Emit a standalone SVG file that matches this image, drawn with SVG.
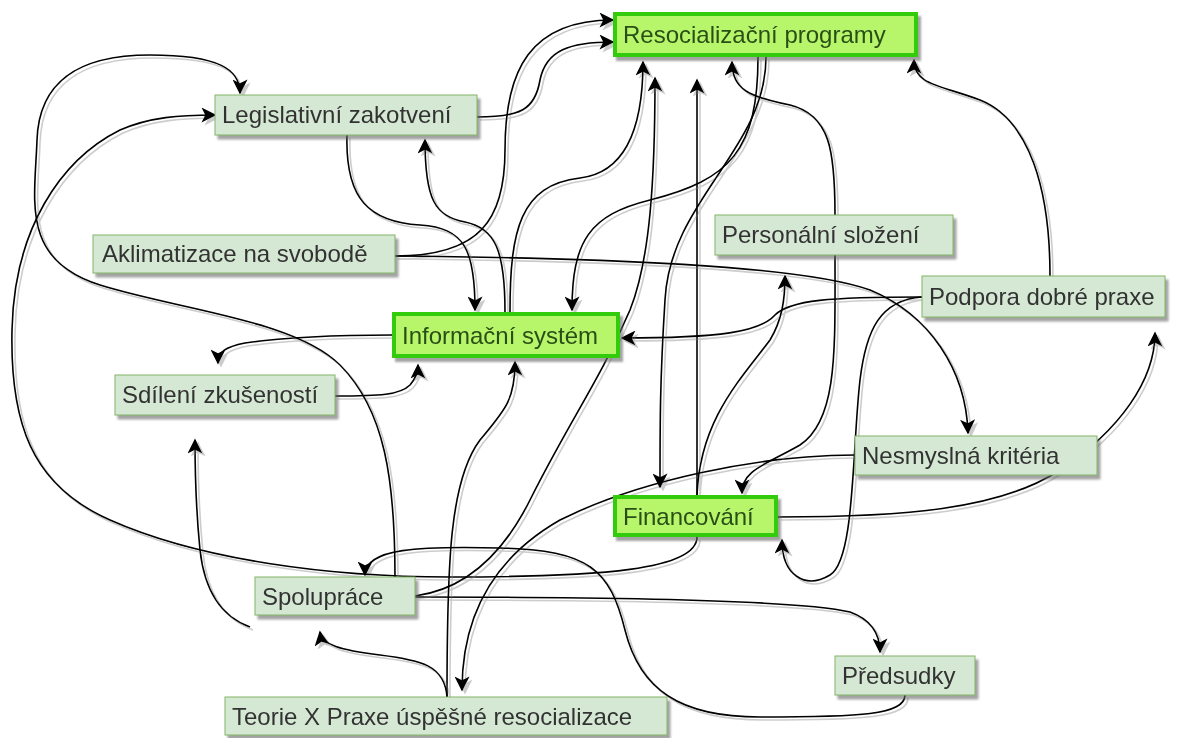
<svg xmlns="http://www.w3.org/2000/svg" width="1184" height="738" viewBox="0 0 1184 738">
<style>
.n rect{fill:#d5e8d4;stroke:#82b366;stroke-width:1}
.g rect{fill:#b7f56a;stroke:#33cc11;stroke-width:4}
text{font-family:"Liberation Sans",Arial,sans-serif;font-size:24px;fill:#333}
.g text{fill:#2a4f16}
#edges path{fill:none;stroke:#000;stroke-width:1.6;marker-end:url(#a)}
</style>
<defs>
<marker id="a" viewBox="0 0 10 10" refX="9" refY="5" markerWidth="16" markerHeight="15" markerUnits="userSpaceOnUse" orient="auto">
<path d="M0,0 L10,5 L0,10 L2.5,5 z" fill="#000"/>
</marker>
<filter id="sh" x="-10%" y="-10%" width="130%" height="140%">
<feDropShadow dx="3" dy="4" stdDeviation="1" flood-color="#666" flood-opacity="0.6"/>
</filter>
<filter id="esh" x="-5%" y="-5%" width="110%" height="110%">
<feDropShadow dx="3" dy="3" stdDeviation="0.6" flood-color="#999" flood-opacity="0.5"/>
</filter>
</defs>
<rect width="1184" height="738" fill="#fff"/>
<g id="edges" filter="url(#esh)">
<path d="M395,256 C480,256 505,220 505,150 C505,70 530,20 613,20"/>
<path d="M477,117 C520,117 535,110 540,80 C546,50 570,42 613,42"/>
<path d="M395,577 C395,480 385,410 340,365 S180,310 100,285 S35,200 37,140 S80,55 150,55 S240,70 240,93"/>
<path d="M697,537 C697,570 600,577 450,577 C330,577 200,560 110,520 C30,485 10,420 12,330 C14,230 60,160 120,130 C150,117 180,115 215,115"/>
<path d="M347,135 C345,200 370,222 420,225 C465,228 475,250 475,310"/>
<path d="M505,312 C505,250 495,228 465,222 C435,216 425,200 425,140"/>
<path d="M510,312 C510,230 520,185 580,178 C630,172 643,120 643,62"/>
<path d="M758,57 C758,150 730,180 650,200 C590,215 572,240 572,310"/>
<path d="M766,57 C766,150 670,200 665,300 C660,380 660,420 660,487"/>
<path d="M697,495 L697,80"/>
<path d="M835,215 C835,150 830,115 790,105 C750,97 732,90 732,62"/>
<path d="M835,255 C835,350 838,420 800,445 C765,465 742,470 742,493"/>
<path d="M697,495 C700,420 740,380 770,340 C782,320 785,300 785,276"/>
<path d="M922,297 C830,297 790,300 775,315 C760,332 720,338 622,338"/>
<path d="M1050,276 C1050,190 1030,120 980,100 C940,85 914,85 914,60"/>
<path d="M778,517 C900,517 1000,510 1060,470 C1120,430 1155,380 1155,333"/>
<path d="M922,297 C880,300 866,330 860,380 C852,450 855,560 830,575 C805,590 782,575 782,540"/>
<path d="M395,256 C600,258 800,265 870,290 C930,315 966,370 968,433"/>
<path d="M855,455 C760,455 640,480 560,520 C490,560 462,620 462,690"/>
<path d="M447,697 C445,665 420,660 380,655 C340,650 322,645 320,632"/>
<path d="M447,697 C447,560 450,480 480,440 C505,410 515,400 515,362"/>
<path d="M415,596 C460,590 500,560 530,500 C570,420 600,380 630,310 C650,260 655,180 655,78"/>
<path d="M415,597 C600,597 800,600 850,612 C872,620 880,635 880,652"/>
<path d="M905,695 C905,715 860,717 760,717 C680,717 640,690 625,630 C610,570 590,550 500,548 C420,546 365,548 365,575"/>
<path d="M250,627 C225,618 205,595 200,550 C196,510 195,470 195,440"/>
<path d="M335,396 C380,396 400,395 410,385 C416,378 418,372 418,365"/>
<path d="M392,335 C330,335 280,338 245,343 C225,347 218,352 218,363"/>
</g>
<g id="n1" class="g" filter="url(#sh)"><rect x="615" y="14" width="301" height="41"/><text x="623" y="43">Resocializační programy</text></g>
<g id="n2" class="n" filter="url(#sh)"><rect x="215" y="95" width="262" height="40"/><text x="222" y="123">Legislativní zakotvení</text></g>
<g id="n3" class="n" filter="url(#sh)"><rect x="93" y="235" width="302" height="38"/><text x="102" y="262">Aklimatizace na svobodě</text></g>
<g id="n4" class="g" filter="url(#sh)"><rect x="394" y="314" width="224" height="42"/><text x="402" y="344">Informační systém</text></g>
<g id="n5" class="n" filter="url(#sh)"><rect x="115" y="375" width="220" height="40"/><text x="122" y="403">Sdílení zkušeností</text></g>
<g id="n6" class="n" filter="url(#sh)"><rect x="715" y="215" width="238" height="40"/><text x="722" y="243">Personální složení</text></g>
<g id="n7" class="n" filter="url(#sh)"><rect x="922" y="276" width="243" height="41"/><text x="929" y="305">Podpora dobré praxe</text></g>
<g id="n8" class="n" filter="url(#sh)"><rect x="855" y="436" width="242" height="39"/><text x="862" y="464">Nesmyslná kritéria</text></g>
<g id="n9" class="g" filter="url(#sh)"><rect x="615" y="497" width="161" height="38"/><text x="623" y="525">Financování</text></g>
<g id="n10" class="n" filter="url(#sh)"><rect x="255" y="577" width="160" height="38"/><text x="262" y="605">Spolupráce</text></g>
<g id="n11" class="n" filter="url(#sh)"><rect x="835" y="656" width="140" height="39"/><text x="842" y="684">Předsudky</text></g>
<g id="n12" class="n" filter="url(#sh)"><rect x="225" y="697" width="442" height="38"/><text x="232" y="725">Teorie X Praxe úspěšné resocializace</text></g>
</svg>
